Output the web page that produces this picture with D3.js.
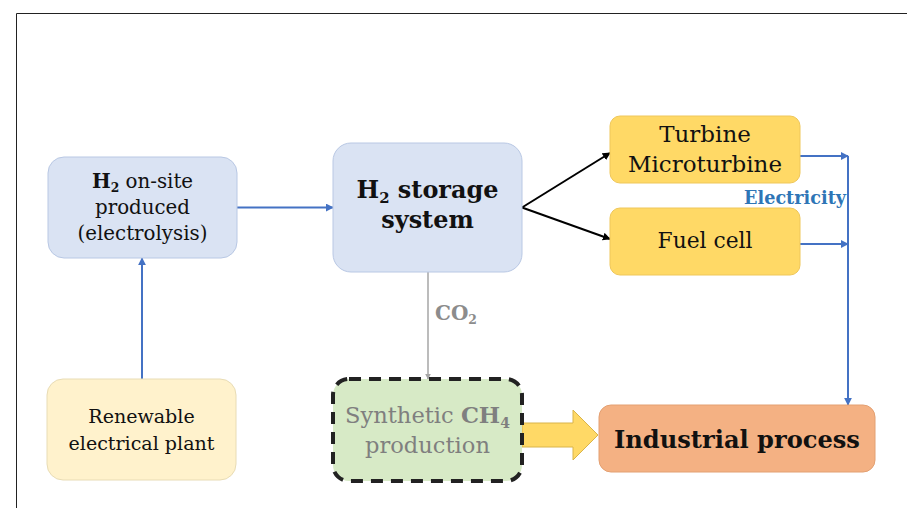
<!DOCTYPE html>
<html>
<head>
<meta charset="utf-8">
<script src="https://cdn.jsdelivr.net/npm/d3@7"></script>
<style>
  body { margin: 0; background: #fff; }
  svg { display: block; }
</style>
</head>
<body>
<div id="chart"></div>
<script>
// diagram content
const nodeIds = ["onsite", "plant", "storage", "turbine", "fuelcell", "synth", "industrial"];
const nodeLabels = [
  [[{t: "H", b: 1}, {t: "2", b: 1, sub: 1}, {t: " on-site"}], [{t: "produced"}], [{t: "(electrolysis)"}]],
  [[{t: "Renewable"}], [{t: "electrical plant"}]],
  [[{t: "H", b: 1}, {t: "2", b: 1, sub: 1}, {t: " storage", b: 1}], [{t: "system", b: 1}]],
  [[{t: "Turbine"}], [{t: "Microturbine"}]],
  [[{t: "Fuel cell"}]],
  [[{t: "Synthetic "}, {t: "CH", b: 1}, {t: "4", b: 1, sub: 1}], [{t: "production"}]],
  [[{t: "Industrial process", b: 1}]]
];
const links = [
  {from: "plant", to: "onsite", kind: "power"},
  {from: "onsite", to: "storage", kind: "power"},
  {from: "storage", to: "turbine", kind: "h2"},
  {from: "storage", to: "fuelcell", kind: "h2"},
  {from: "storage", to: "synth", kind: "co2"},
  {from: "turbine", to: "industrial", kind: "elec"},
  {from: "fuelcell", to: "industrial", kind: "elec"},
  {from: "synth", to: "industrial", kind: "gas"}
];
const flowLabels = [
  {text: [{t: "CO", b: 1}, {t: "2", b: 1, sub: 1}], kind: "co2"},
  {text: [{t: "Electricity", b: 1}], kind: "elec"}
];

// layout: box geometry, first text baseline, line height, target width of the widest line
const width = 907, height = 508;
const box = {
  onsite:     {x: 48,  y: 157, w: 189, h: 101, r: 16, fill: "#dae3f3", stroke: "#b9c8e4", base: 188, lh: 26, tw: 130, color: "#111", dash: null},
  plant:      {x: 47,  y: 379, w: 189, h: 101, r: 16, fill: "#fff2cc", stroke: "#e8dcb5", base: 423, lh: 27, tw: 146, color: "#111", dash: null},
  storage:    {x: 333, y: 143, w: 189, h: 129, r: 18, fill: "#dae3f3", stroke: "#b9c8e4", base: 198, lh: 30, tw: 142, color: "#111", dash: null},
  turbine:    {x: 610, y: 116, w: 190, h: 67,  r: 10, fill: "#ffd966", stroke: "#efc75a", base: 142, lh: 30, tw: 154, color: "#111", dash: null},
  fuelcell:   {x: 610, y: 208, w: 190, h: 67,  r: 10, fill: "#ffd966", stroke: "#efc75a", base: 248, lh: 30, tw: 95,  color: "#111", dash: null},
  synth:      {x: 333, y: 379, w: 189, h: 102, r: 16, fill: "#d7eac6", stroke: "#222", base: 423, lh: 30, tw: 165, color: "#7f7f7f", dash: "12,8"},
  industrial: {x: 599, y: 405, w: 276, h: 67,  r: 12, fill: "#f4b183", stroke: "#e3a072", base: 448, lh: 30, tw: 246, color: "#111", dash: null}
};
const busX = 848;
const linkStyle = {
  power: {stroke: "#4472c4", width: 2, marker: "blue"},
  elec:  {stroke: "#4472c4", width: 2, marker: "blue"},
  h2:    {stroke: "#000", width: 2, marker: "black"},
  co2:   {stroke: "#a6a6a6", width: 1.5, marker: "grey"}
};
const serif = "'Palatino Linotype', 'Book Antiqua', Palatino, 'DejaVu Serif', serif";

const svg = d3.select("#chart").append("svg")
  .attr("width", width)
  .attr("height", height);

// frame
svg.append("path")
  .attr("d", `M16.5,${height} V13.5 H${width}`)
  .attr("fill", "none")
  .attr("stroke", "#222")
  .attr("stroke-width", 1);

const defs = svg.append("defs");
[["blue", "#4472c4"], ["black", "#000"], ["grey", "#a6a6a6"]].forEach(([id, c]) => {
  defs.append("marker")
    .attr("id", "arrow-" + id)
    .attr("viewBox", "0 0 10 10")
    .attr("refX", 9)
    .attr("refY", 5)
    .attr("markerWidth", 4)
    .attr("markerHeight", 4)
    .attr("orient", "auto")
    .append("path")
    .attr("d", "M0,0 L10,5 L0,10 Z")
    .attr("fill", c);
});

const byId = {};
nodeIds.forEach((id, i) => byId[id] = Object.assign({id: id, lines: nodeLabels[i]}, box[id]));

const right = n => [n.x + n.w, n.y + n.h / 2];

function linkPoints(l) {
  const a = byId[l.from], b = byId[l.to];
  if (l.kind === "power" && l.from === "plant") {
    const cx = a.x + 95;
    return [[cx, a.y], [cx, b.y + b.h]];
  }
  if (l.kind === "power") return [right(a), [b.x, right(a)[1]]];
  if (l.kind === "h2") {
    const ty = l.to === "turbine" ? b.y + 37 : b.y + 31;
    return [right(a), [b.x, ty]];
  }
  if (l.kind === "co2") {
    const cx = a.x + 95;
    return [[cx, a.y + a.h], [cx, b.y]];
  }
  if (l.kind === "elec") {
    const sy = l.from === "turbine" ? a.y + 40 : a.y + 36;
    return [[a.x + a.w, sy], [busX, sy]];
  }
  return null;
}

const line = d3.line();

// connectors
links.filter(l => l.kind !== "gas").forEach(l => {
  const s = linkStyle[l.kind];
  svg.append("path")
    .attr("d", line(linkPoints(l)))
    .attr("fill", "none")
    .attr("stroke", s.stroke)
    .attr("stroke-width", s.width)
    .attr("marker-end", `url(#arrow-${s.marker})`);
});

// electricity bus down to industrial process
const ind = byId.industrial;
const elecTop = d3.min(links.filter(l => l.kind === "elec"), l => linkPoints(l)[0][1]);
svg.append("path")
  .attr("d", line([[busX, elecTop], [busX, ind.y]]))
  .attr("fill", "none")
  .attr("stroke", "#4472c4")
  .attr("stroke-width", 2)
  .attr("marker-end", "url(#arrow-blue)");

// block arrow for synthetic gas
links.filter(l => l.kind === "gas").forEach(l => {
  const a = byId[l.from], b = byId[l.to];
  const x0 = a.x + a.w, x1 = b.x - 1, cy = 435;
  const hx = x1 - 25;
  const pts = [[x0, cy - 12], [hx, cy - 12], [hx, cy - 25], [x1, cy], [hx, cy + 25], [hx, cy + 12], [x0, cy + 12]];
  svg.append("path")
    .attr("d", line(pts) + "Z")
    .attr("fill", "#ffd966")
    .attr("stroke", "#d9b44a")
    .attr("stroke-width", 1);
});

// boxes
const nodeG = svg.selectAll("g.node")
  .data(nodeIds.map(id => byId[id]))
  .join("g")
  .attr("class", "node");

nodeG.append("rect")
  .attr("x", d => d.x)
  .attr("y", d => d.y)
  .attr("width", d => d.w)
  .attr("height", d => d.h)
  .attr("rx", d => d.r)
  .attr("fill", d => d.fill)
  .attr("stroke", d => d.stroke)
  .attr("stroke-width", d => d.dash ? 4 : 1)
  .attr("stroke-dasharray", d => d.dash);

// subscripts shift the baseline; the next segment shifts it back
function writeSegments(text, segs, size) {
  text.selectAll("tspan").remove();
  text.attr("font-size", size);
  let shift = 0;
  segs.forEach(s => {
    const ts = text.append("tspan")
      .attr("font-weight", s.b ? "bold" : "normal")
      .text(s.t);
    if (s.sub) {
      const dy = size * 0.22;
      ts.attr("font-size", size * 0.62).attr("dy", dy);
      shift += dy;
    } else if (shift) {
      ts.attr("dy", -shift);
      shift = 0;
    }
  });
}

// write the lines, then scale the font so the widest line fits its target width
function fitLines(texts, segLines, tw) {
  const size0 = 20;
  texts.forEach((t, i) => writeSegments(t, segLines[i], size0));
  const w = d3.max(texts, t => t.node().getComputedTextLength());
  const size = size0 * tw / w;
  texts.forEach((t, i) => writeSegments(t, segLines[i], size));
}

nodeG.each(function(d) {
  const g = d3.select(this);
  const cx = d.x + d.w / 2;
  const texts = d.lines.map((segs, i) => g.append("text")
    .attr("x", cx)
    .attr("y", d.base + i * d.lh)
    .attr("text-anchor", "middle")
    .attr("font-family", serif)
    .attr("fill", d.color));
  fitLines(texts, d.lines, d.tw);
});

// flow labels
flowLabels.forEach(f => {
  let t, tw;
  if (f.kind === "co2") {
    t = svg.append("text")
      .attr("x", 435)
      .attr("y", 320)
      .attr("fill", "#8c8c8c");
    tw = 42;
  } else {
    t = svg.append("text")
      .attr("x", busX - 2)
      .attr("y", 204)
      .attr("text-anchor", "end")
      .attr("fill", "#2e75b6");
    tw = 102;
  }
  t.attr("font-family", serif);
  fitLines([t], [f.text], tw);
});
</script>
</body>
</html>
